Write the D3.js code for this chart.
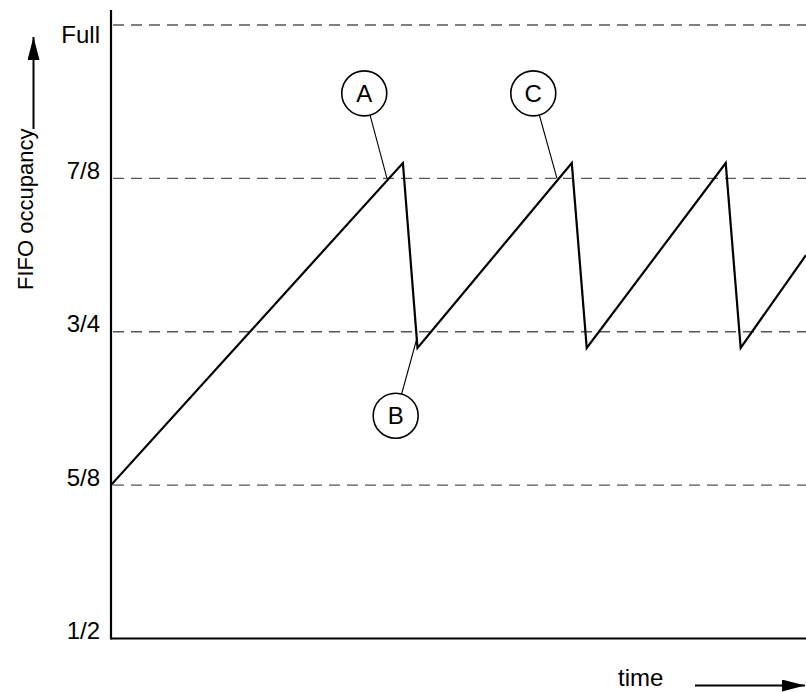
<!DOCTYPE html>
<html>
<head>
<meta charset="utf-8">
<script src="https://cdn.jsdelivr.net/npm/d3@7"></script>
<style>
    body { margin: 0; background: white; }
    text { font-family: "Liberation Sans", Arial, Helvetica, sans-serif; fill: black; }
</style>
</head>
<body>
<script>
// sawtooth: time (arbitrary units) and FIFO occupancy (fraction of full)
const times = [0, 42.0, 44.1, 66.3, 68.45, 88.45, 90.6, 100]
const occupancy = [0.625, 0.8875, 0.7368, 0.8875, 0.7368, 0.8875, 0.7368, 0.8125]

const tickValues = [0.5, 0.625, 0.75, 0.875, 1]
const tickLabels = ['1/2', '5/8', '3/4', '7/8', 'Full']

// callouts: label, circle centre (t, v), point it refers to (t, v)
const calloutNames = ['A', 'B', 'C']
const calloutCentreT = [36.44, 40.96, 60.76]
const calloutCentreV = [0.9443, 0.6816, 0.9443]
const calloutPointT = [39.71, 43.99, 64.17]
const calloutPointV = [0.875, 0.7441, 0.875]

const width = 806
const height = 692
const axisX = 111
const axisTop = 10
const fontSize = 24
const circleR = 22.5

const x = d3.scaleLinear().domain([0, 100]).range([axisX, width])
const y = d3.scaleLinear().domain([0.5, 1]).range([638.5, 25])

function makeCanvas() {
    const svg = d3.select('body')
        .append('svg')
        .attr('width', width)
        .attr('height', height)

    const defs = svg.append('defs')
    defs.append('marker')
        .attr('id', 'head')
        .attr('viewBox', '0 0 23 12')
        .attr('refX', 23)
        .attr('refY', 6)
        .attr('markerWidth', 23)
        .attr('markerHeight', 12)
        .attr('markerUnits', 'userSpaceOnUse')
        .attr('orient', 'auto')
        .append('path')
        .attr('d', 'M0,0 L23,6 L0,12 Z')
        .attr('fill', 'black')

    defs.append('clipPath')
        .attr('id', 'plot')
        .append('rect')
        .attr('x', axisX)
        .attr('y', 0)
        .attr('width', width - axisX)
        .attr('height', y(0.5))
    return svg
}

function drawGrid(svg) {
    svg.append('g')
        .selectAll('line')
        .data(tickValues.filter(v => v > 0.5))
        .join('line')
        .attr('x1', axisX + 2)
        .attr('x2', width)
        .attr('y1', d => y(d))
        .attr('y2', d => y(d))
        .attr('stroke', '#555')
        .attr('stroke-width', 1.3)
        .attr('stroke-dasharray', '11,7')
}

function drawAxes(svg) {
    const axis = d3.axisLeft(y)
        .tickValues(tickValues)
        .tickFormat((d, i) => tickLabels[i])
        .tickSize(0)
        .tickPadding(11)
    const g = svg.append('g')
        .attr('transform', `translate(${axisX},0)`)
        .call(axis)
    g.select('.domain').remove()
    g.selectAll('text')
        .attr('font-size', fontSize)
        .attr('font-family', '"Liberation Sans", Arial, sans-serif')
        .attr('fill', 'black')
        .attr('dy', d => d === 1 ? '0.72em' : '0')

    svg.append('line')
        .attr('x1', axisX).attr('x2', axisX)
        .attr('y1', axisTop).attr('y2', y(0.5) + 1)
        .attr('stroke', 'black')
        .attr('stroke-width', 2.2)
    svg.append('line')
        .attr('x1', axisX).attr('x2', width)
        .attr('y1', y(0.5)).attr('y2', y(0.5))
        .attr('stroke', 'black')
        .attr('stroke-width', 2.2)

    // axis titles with arrows
    svg.append('text')
        .attr('transform', 'translate(33,290) rotate(-90)')
        .attr('font-size', 22)
        .text('FIFO occupancy')
    svg.append('line')
        .attr('x1', 33.5).attr('x2', 33.5)
        .attr('y1', 129).attr('y2', 37)
        .attr('stroke', 'black')
        .attr('stroke-width', 2)
        .attr('marker-end', 'url(#head)')

    svg.append('text')
        .attr('x', 618)
        .attr('y', 686)
        .attr('font-size', fontSize)
        .text('time')
    svg.append('line')
        .attr('x1', 695).attr('x2', 805)
        .attr('y1', 685.5).attr('y2', 685.5)
        .attr('stroke', 'black')
        .attr('stroke-width', 2)
        .attr('marker-end', 'url(#head)')
}

function drawSawtooth(svg) {
    const pts = times.map((t, i) => [t, occupancy[i]])
    svg.append('path')
        .datum(pts)
        .attr('clip-path', 'url(#plot)')
        .attr('d', d3.line().x(d => x(d[0])).y(d => y(d[1])))
        .attr('fill', 'none')
        .attr('stroke', 'black')
        .attr('stroke-width', 2.2)
        .attr('stroke-linejoin', 'miter')
}

function drawCallouts(svg) {
    const callouts = calloutNames.map((name, i) => {
        const cx = x(calloutCentreT[i])
        const cy = y(calloutCentreV[i])
        const px = x(calloutPointT[i])
        const py = y(calloutPointV[i])
        const len = Math.hypot(px - cx, py - cy)
        return {
            name, cx, cy, px, py,
            sx: cx + (px - cx) / len * circleR,
            sy: cy + (py - cy) / len * circleR
        }
    })
    const g = svg.append('g')
    g.selectAll('line')
        .data(callouts)
        .join('line')
        .attr('x1', d => d.sx).attr('y1', d => d.sy)
        .attr('x2', d => d.px).attr('y2', d => d.py)
        .attr('stroke', 'black')
        .attr('stroke-width', 1.1)
    g.selectAll('circle')
        .data(callouts)
        .join('circle')
        .attr('cx', d => d.cx).attr('cy', d => d.cy)
        .attr('r', circleR)
        .attr('fill', 'white')
        .attr('stroke', 'black')
        .attr('stroke-width', 1.6)
    g.selectAll('text')
        .data(callouts)
        .join('text')
        .attr('x', d => d.cx)
        .attr('y', d => d.cy + 8.5)
        .attr('text-anchor', 'middle')
        .attr('font-size', fontSize)
        .text(d => d.name)
}

window.onload = function() {
    const svg = makeCanvas()
    drawGrid(svg)
    drawAxes(svg)
    drawSawtooth(svg)
    drawCallouts(svg)
}
</script>
</body>
</html>
